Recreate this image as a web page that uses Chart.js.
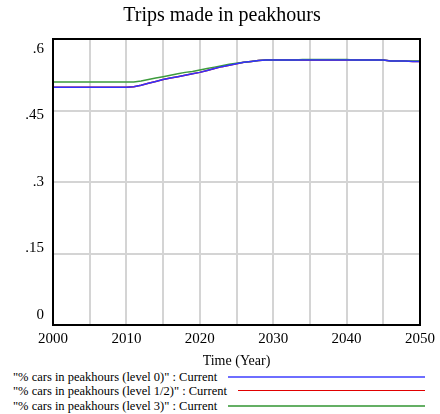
<!DOCTYPE html>
<html>
<head>
<meta charset="utf-8">
<script src="https://cdn.jsdelivr.net/npm/chart.js@4/dist/chart.umd.min.js"></script>
<style>
html,body{margin:0;padding:0;background:#fff;}
#wrap{position:relative;width:440px;height:414px;}
#c{position:absolute;left:0;top:0;}
.lg{position:absolute;left:13px;font:12.5px "Liberation Serif",serif;color:#000;white-space:nowrap;line-height:14px;}
.ln{position:absolute;right:15px;}
</style>
</head>
<body>
<div id="wrap">
<canvas id="c" width="440" height="370"></canvas>
<div class="lg" style="top:370px">"% cars in peakhours (level 0)" : Current</div>
<div class="ln" style="top:376px;height:2px;left:228px;background:rgb(110,110,255)"></div>
<div class="lg" style="top:384px">"% cars in peakhours (level 1/2)" : Current</div>
<div class="ln" style="top:390px;height:1px;left:238px;background:rgb(225,0,0)"></div>
<div class="lg" style="top:399px">"% cars in peakhours (level 3)" : Current</div>
<div class="ln" style="top:405px;height:2px;left:228px;background:rgb(100,175,100)"></div>
</div>
<script>
const years = [];
for (let y = 2000; y <= 2050; y++) years.push(y);

const level0 = [
  0.499,0.499,0.499,0.499,0.499,0.499,0.499,0.499,0.499,0.499,
  0.499,0.500,0.503,0.507,0.511,0.515,0.518,0.521,0.524,0.527,
  0.530,0.534,0.538,0.542,0.545,0.548,0.551,0.553,0.555,0.556,
  0.556,0.556,0.556,0.556,0.556,0.556,0.556,0.556,0.556,0.556,
  0.556,0.556,0.556,0.556,0.556,0.556,0.554,0.554,0.554,0.553,0.553
];
const level12 = level0.slice();
const level3 = [
  0.510,0.510,0.510,0.510,0.510,0.510,0.510,0.510,0.510,0.510,
  0.510,0.510,0.512,0.515,0.518,0.521,0.524,0.527,0.530,0.532,
  0.535,0.538,0.541,0.544,0.547,0.549,0.551,0.553,0.555,0.556,
  0.556,0.556,0.556,0.556,0.557,0.557,0.557,0.557,0.557,0.557,
  0.557,0.556,0.556,0.556,0.556,0.556,0.554,0.554,0.554,0.554,0.554
];
const yTicks = [0, 0.15, 0.3, 0.45, 0.6];
const yTickLabels = ['0', '.15', '.3', '.45', '.6'];

const pts = arr => arr.map((v, i) => ({x: years[i], y: v}));

const SERIF = '"Liberation Serif", serif';

const frame = {
  id: 'frame',
  afterDraw(chart) {
    const {ctx, chartArea: a} = chart;
    const ys = chart.scales.y;
    ctx.save();
    ctx.strokeStyle = '#000';
    ctx.lineWidth = 2;
    ctx.strokeRect(a.left, a.top, a.right - a.left, a.bottom - a.top);
    ctx.fillStyle = '#000';
    ctx.font = '15px ' + SERIF;
    ctx.textAlign = 'right';
    ctx.textBaseline = 'middle';
    const mid = (a.top + a.bottom) / 2;
    yTicks.forEach((v, i) => {
      const py = ys.getPixelForValue(v);
      const ly = mid + (py - mid) * 0.93;
      ctx.fillText(yTickLabels[i], a.left - 9, ly);
    });
    ctx.restore();
  }
};

new Chart(document.getElementById('c'), {
  type: 'line',
  data: {
    datasets: [
      {label: '"% cars in peakhours (level 1/2)" : Current', data: pts(level12), borderColor: 'rgb(220,0,0)', borderWidth: 1.5, pointRadius: 0, order: 3},
      {label: '"% cars in peakhours (level 3)" : Current', data: pts(level3), borderColor: 'rgb(60,155,60)', borderWidth: 1.5, pointRadius: 0, order: 2},
      {label: '"% cars in peakhours (level 0)" : Current', data: pts(level0), borderColor: 'rgb(50,50,255)', borderWidth: 1.5, pointRadius: 0, order: 1}
    ]
  },
  options: {
    responsive: false,
    animation: false,
    layout: {padding: {left: 4, right: 0, top: 0, bottom: 0}},
    plugins: {
      legend: {display: false},
      tooltip: {enabled: false},
      title: {
        display: true,
        text: 'Trips made in peakhours',
        color: '#000',
        font: {family: SERIF, size: 20, weight: 'normal'},
        padding: {top: 4, bottom: 11}
      }
    },
    scales: {
      x: {
        type: 'linear',
        min: 2000, max: 2050,
        afterFit: s => { s.height = 45; },
        grid: {color: '#d4d4d4', lineWidth: 2, drawTicks: false},
        border: {display: false},
        ticks: {
          stepSize: 5, autoSkip: false, maxRotation: 0, padding: 5,
          color: '#000',
          font: {family: SERIF, size: 15},
          callback: v => (v % 10 === 0 ? String(v) : '')
        },
        title: {
          display: true, text: 'Time (Year)', color: '#000',
          font: {family: SERIF, size: 14},
          padding: {top: 0, bottom: 0}
        }
      },
      y: {
        min: 0, max: 0.6,
        afterFit: s => { s.width = 49; },
        afterBuildTicks: s => { s.ticks = yTicks.map(v => ({value: v})); },
        grid: {color: '#d4d4d4', lineWidth: 2, drawTicks: false},
        border: {display: false},
        ticks: {display: false}
      },
      yr: {
        position: 'right',
        min: 0, max: 0.6,
        afterFit: s => { s.width = 19; },
        grid: {display: false, drawTicks: false},
        border: {display: false},
        ticks: {display: false}
      }
    }
  },
  plugins: [frame]
});
</script>
</body>
</html>
